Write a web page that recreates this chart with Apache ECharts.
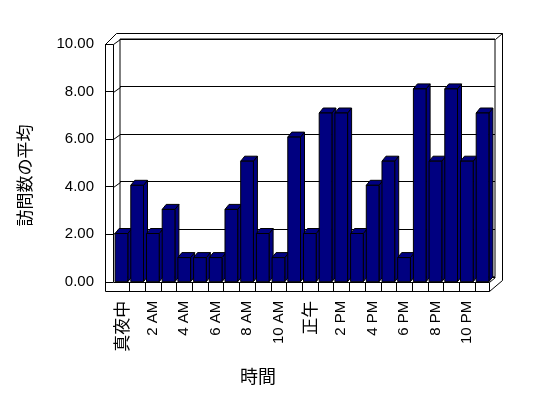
<!DOCTYPE html>
<html>
<head>
<meta charset="utf-8">
<script src="https://cdn.jsdelivr.net/npm/echarts@6/dist/echarts.min.js"></script>
<style>html,body{margin:0;padding:0;background:#fff}#c{width:548px;height:398px}</style>
</head>
<body>
<div id="c"></div>
<script>
// ---- data ----
var hours = ['真夜中','1 AM','2 AM','3 AM','4 AM','5 AM','6 AM','7 AM','8 AM','9 AM','10 AM','11 AM',
             '正午','1 PM','2 PM','3 PM','4 PM','5 PM','6 PM','7 PM','8 PM','9 PM','10 PM','11 PM'];
var visits = [2,4,2,3,1,1,1,3,5,2,1,6,2,7,7,2,4,5,1,8,5,8,5,7];
var yTicks = [0,2,4,6,8,10];
var xTitle = '時間';
var yTitle = '訪問数の平均';

var LATIN = "'Liberation Sans', Arial, sans-serif";
var CJK = "'Noto Sans CJK JP', sans-serif";
var NAVY = '#000080';

var chart = echarts.init(document.getElementById('c'), null, {renderer: 'canvas'});

function isCJK(s){ return /[\u3000-\u9fff]/.test(s); }

var option = {
  animation: false,
  backgroundColor: '#fff',
  grid: [
    {left: 113.6, top: 40.7, width: 376.8, height: 241},                 // bars (front)
    {left: 105, top: 44.1, width: 8, height: 237.7},                     // left wall front scale
    {left: 120, top: 39, width: 375, height: 237.8, show: true,
     borderColor: '#000', borderWidth: 1, backgroundColor: 'transparent'} // back wall
  ],
  xAxis: [
    {gridIndex: 0, type: 'category', data: hours, boundaryGap: true,
     axisLine: {show: false}, axisTick: {show: false},
     axisLabel: {interval: 1, rotate: 90, margin: 19, fontSize: 15, color: '#000', fontFamily: LATIN,
       formatter: function(v){ return isCJK(v) ? '{c|' + v + '}' : v; },
       rich: {c: {fontFamily: CJK, fontSize: 17, color: '#000'}}}},
    {gridIndex: 1, type: 'value', show: false},
    {gridIndex: 2, type: 'category', data: hours, show: false}
  ],
  yAxis: [
    {gridIndex: 0, type: 'value', min: yTicks[0], max: yTicks[yTicks.length-1], show: false},
    {gridIndex: 1, type: 'value', min: yTicks[0], max: yTicks[yTicks.length-1], interval: yTicks[1]-yTicks[0],
     axisLine: {show: false}, axisTick: {show: false},
     axisLabel: {margin: 11, fontSize: 15, color: '#000', fontFamily: LATIN,
       formatter: function(v){ return v.toFixed(2); }},
     splitLine: {show: true, lineStyle: {color: '#000', width: 1}}},
    {gridIndex: 2, type: 'value', min: yTicks[0], max: yTicks[yTicks.length-1], interval: yTicks[1]-yTicks[0],
     axisLine: {show: false}, axisTick: {show: false}, axisLabel: {show: false},
     splitLine: {show: true, lineStyle: {color: '#000', width: 1}}}
  ],
  series: [{
    type: 'custom',
    xAxisIndex: 0, yAxisIndex: 0,
    z: 5,
    data: visits.map(function(v, i){ return [i, v]; }),
    encode: {x: 0, y: 1},
    renderItem: function(params, api){
      var i = api.value(0), v = api.value(1);
      var top = api.coord([i, v]);
      var base = api.coord([i, 0]);
      var band = api.size([1, 0])[0];
      var w = band * 0.81;
      var x0 = top[0] - w / 2, x1 = x0 + w;
      var dx = 4, dy = -5;
      var st = {fill: NAVY, stroke: '#000', lineWidth: 1};
      return {type: 'group', children: [
        {type: 'polygon', shape: {points: [[x1, base[1]], [x1+dx, base[1]+dy], [x1+dx, top[1]+dy], [x1, top[1]]]}, style: st},
        {type: 'polygon', shape: {points: [[x0, top[1]], [x0+dx, top[1]+dy], [x1+dx, top[1]+dy], [x1, top[1]]]}, style: st},
        {type: 'rect', shape: {x: x0, y: top[1], width: w, height: base[1]-top[1]}, style: st}
      ]};
    }
  }]
};
chart.setOption(option);

// ---- decorative 3D frame (walls/floor), positioned from the axes ----
function s(v){ return Math.round(v) + 0.5; }
function fy(v){ return chart.convertToPixel({yAxisIndex: 1}, v); }
function by(v){ return chart.convertToPixel({yAxisIndex: 2}, v); }
function cx(k){ return chart.convertToPixel({xAxisIndex: 0}, k); }

var yMaxV = yTicks[yTicks.length-1];
var base = chart.convertToPixel({yAxisIndex: 0}, 0);
var wallTopF = fy(yMaxV), wallTopB = by(yMaxV);
var Lx0 = 105, Lx1 = 113, Bx0 = 120, Bx1 = 495, Ox = 502, outerTop = 33, floorBot = 291, floorRight = 489;
var band = cx(1) - cx(0);

var els = [];
function L(x1, y1, x2, y2){
  els.push({type: 'line', z: 1, shape: {x1: s(x1), y1: s(y1), x2: s(x2), y2: s(y2)},
            style: {stroke: '#000', lineWidth: 1}});
}
// left wall
L(Lx0, wallTopF, Lx0, floorBot);
L(Lx1, wallTopF, Lx1, base);
L(Lx0, wallTopF, Lx1, wallTopF);
L(Lx0, wallTopF, Lx0 + 11, outerTop);
L(Lx1, wallTopF, Bx0, wallTopB);
// top of back wall
L(Lx0 + 11, outerTop, Ox, outerTop);
L(Bx1, wallTopB, Ox, outerTop);
L(Ox, outerTop, Ox, base - 2);
// left wall ticks (obliques to back gridlines)
yTicks.forEach(function(v){
  if (v > yTicks[0] && v < yMaxV) L(Lx1, fy(v), Bx0, by(v));
});
// floor
L(Lx0, floorBot, floorRight, floorBot);
L(Lx1, base, floorRight, base);
L(floorRight, base, floorRight, floorBot);
L(floorRight, floorBot, Ox, base - 2);
L(floorRight, base, Bx1, by(0));
for (var k = 1; k < hours.length; k++) {
  var bx = cx(k) - band / 2;
  L(bx, base, bx, floorBot);
}
// titles
els.push({type: 'text', x: 25, y: 175.5, rotation: Math.PI / 2,
  style: {text: yTitle, fontFamily: CJK, fontSize: 17, fill: '#000', align: 'center', verticalAlign: 'middle'}});
els.push({type: 'text', x: 258, y: 376,
  style: {text: xTitle, fontFamily: CJK, fontSize: 18, fill: '#000', align: 'center', verticalAlign: 'middle'}});

chart.setOption({graphic: {elements: els}});
</script>
</body>
</html>
